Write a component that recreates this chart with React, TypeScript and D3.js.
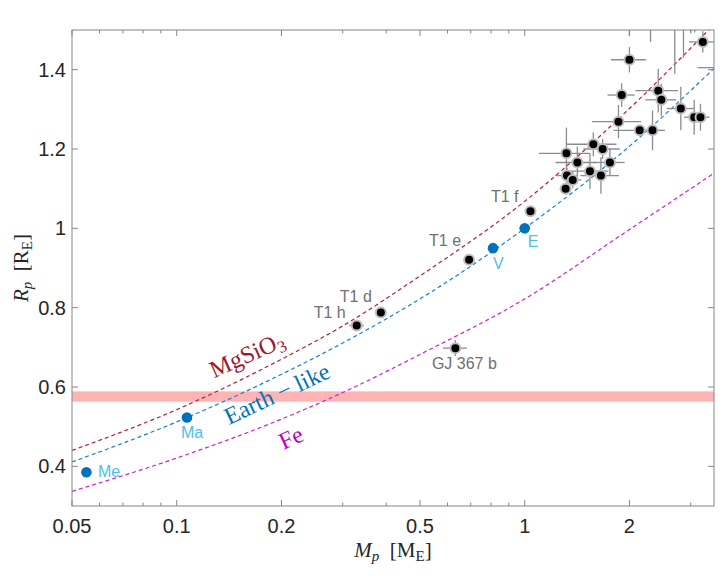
import React from 'react';
import * as d3 from 'd3';

// ---------- data ----------
const xDomain: [number, number] = [0.05, 3.5];
const yDomain: [number, number] = [0.3, 1.5];
const xTickValues = [0.05, 0.1, 0.2, 0.5, 1, 2];
const xTickLabels = ['0.05', '0.1', '0.2', '0.5', '1', '2'];
const xMinorTicks = [0.06, 0.07, 0.08, 0.09, 0.3, 0.4, 0.6, 0.7, 0.8, 0.9, 3];
const yTickValues = [0.4, 0.6, 0.8, 1.0, 1.2, 1.4];
const yTickLabels = ['0.4', '0.6', '0.8', '1', '1.2', '1.4'];

// mass-radius model curves
const curveMass = [0.05, 0.1, 0.2, 0.3, 0.5, 1, 2, 3.5];
const mgsio3Radius = [0.44, 0.543, 0.67, 0.754, 0.88, 1.068, 1.302, 1.514];
const earthRadius = [0.411, 0.512, 0.632, 0.711, 0.822, 1.0, 1.207, 1.403];
const ironRadius = [0.337, 0.421, 0.519, 0.586, 0.682, 0.822, 0.997, 1.139];

// horizontal band
const bandLow = 0.563;
const bandHigh = 0.589;

// solar-system planets
const solarNames = ['Me', 'Ma', 'V', 'E'];
const solarMass = [0.055, 0.107, 0.811, 1.0];
const solarRadius = [0.385, 0.523, 0.95, 1.0];

// labelled exoplanets
const namedPlanets = ['T1 h', 'T1 d', 'T1 e', 'T1 f', 'GJ 367 b'];
const namedMass = [0.329, 0.386, 0.692, 1.039, 0.632];
const namedRadius = [0.755, 0.788, 0.921, 1.043, 0.698];
const namedMassErr = [0.016, 0.006, 0.01, 0.012, 0.05];
const namedRadiusErr = [0.004, 0.004, 0.004, 0.004, 0.02];

// other exoplanets (some lie just outside the frame; only their bars show)
const otherMass = [3.25, 2.0, 2.42, 2.47, 1.9, 2.81, 3.07, 3.2, 1.86, 2.14, 2.33, 1.575, 1.675, 1.318, 1.417, 1.758, 1.54, 1.656, 1.323, 1.374, 1.311, 2.0, 2.3, 2.7, 2.86, 3.0, 3.08, 4.0];
const otherRadius = [1.47, 1.425, 1.347, 1.324, 1.336, 1.302, 1.28, 1.28, 1.269, 1.247, 1.247, 1.212, 1.2, 1.189, 1.166, 1.166, 1.144, 1.133, 1.133, 1.122, 1.1, 1.56, 1.55, 1.58, 1.6, 1.56, 1.56, 1.405];
const otherMassErr = [0.28, 0.23, 0.34, 0.25, 0.17, 0.25, 0.2, 0.2, 0.3, 0.34, 0.2, 0.26, 0.2, 0.22, 0.19, 0.18, 0.2, 0.21, 0.1, 0.08, 0.05, 0.1, 0.1, 0.1, 0.1, 0.1, 0.1, 0.86];
const otherRadiusErr = [0.027, 0.032, 0.055, 0.04, 0.03, 0.055, 0.044, 0.034, 0.042, 0.012, 0.05, 0.03, 0.025, 0.065, 0.04, 0.034, 0.045, 0.046, 0.02, 0.02, 0.015, 0.075, 0.08, 0.19, 0.17, 0.066, 0.066, 0.03];

// ---------- layout ----------
const W = 723;
const H = 581;
const P = { left: 72, right: 714, top: 30, bottom: 506 };
const solarLabelOffset: [number, number, string][] = [
  [11.5, 4.5, 'start'],
  [-6, 20, 'start'],
  [0, 21, 'start'],
  [3, 19, 'start'],
];
const namedLabelOffset: [number, number, string][] = [
  [-11, -7.5, 'end'],
  [-9, -10, 'end'],
  [-8, -13.5, 'end'],
  [-12, -9, 'end'],
  [9, 21, 'middle'],
];

const SANS = '"Liberation Sans", Arial, Helvetica, sans-serif';
const SERIF = '"Liberation Serif", "Times New Roman", serif';
const AXIS = '#868686';
const TXT = '#262626';

export default function App() {
  const x = d3.scaleLog().domain(xDomain).range([P.left, P.right]);
  const y = d3.scaleLinear().domain(yDomain).range([P.bottom, P.top]);
  const line = d3
    .line<number>()
    .x((_, i) => x(curveMass[i]))
    .y((d) => y(d))
    .curve(d3.curveMonotoneX);

  const curves = [
    { r: mgsio3Radius, color: '#B0203A' },
    { r: earthRadius, color: '#1E7FCB' },
    { r: ironRadius, color: '#CC22CC' },
  ];

  const others = otherMass.map((m, i) => ({ m, r: otherRadius[i], dm: otherMassErr[i], dr: otherRadiusErr[i] }));
  const named = namedMass.map((m, i) => ({ m, r: namedRadius[i], dm: namedMassErr[i], dr: namedRadiusErr[i], name: namedPlanets[i] }));
  const bars = [...others, ...named];

  const pw = P.right - P.left;
  const ph = P.bottom - P.top;

  return (
    <svg width={W} height={H} style={{ position: 'absolute', left: 0, top: 0, background: '#fff' }}>
      <defs>
        <clipPath id="plotclip">
          <rect x={P.left} y={P.top} width={pw} height={ph} />
        </clipPath>
      </defs>
      <rect x={0} y={0} width={W} height={H} fill="#fff" />
      <g clipPath="url(#plotclip)">
        <rect x={P.left} y={y(bandHigh)} width={pw} height={y(bandLow) - y(bandHigh)} fill="#FFB3B3" />
        {curves.map((c, i) => (
          <path key={i} d={line(c.r) || ''} fill="none" stroke={c.color} strokeWidth={1.2} strokeDasharray="4,3" />
        ))}
        {bars.map((b, i) => (
          <g key={i} stroke="#8c8c8c" strokeWidth={1.3}>
            <line x1={x(b.m - b.dm)} x2={x(b.m + b.dm)} y1={y(b.r)} y2={y(b.r)} />
            <line x1={x(b.m)} x2={x(b.m)} y1={y(b.r - b.dr)} y2={y(b.r + b.dr)} />
          </g>
        ))}
        {bars.map((b, i) => (
          <circle key={i} cx={x(b.m)} cy={y(b.r)} r={5} fill="#000" stroke="#bdbdbd" strokeWidth={2} />
        ))}
        {solarMass.map((m, i) => (
          <circle key={i} cx={x(m)} cy={y(solarRadius[i])} r={5.3} fill="#0072BD" />
        ))}
      </g>

      {solarNames.map((n, i) => (
        <text key={n} x={x(solarMass[i]) + solarLabelOffset[i][0]} y={y(solarRadius[i]) + solarLabelOffset[i][1]}
          textAnchor={solarLabelOffset[i][2] as any} fontFamily={SANS} fontSize={16} fill="#4DBEEE">{n}</text>
      ))}
      {named.map((p, i) => (
        <text key={p.name} x={x(p.m) + namedLabelOffset[i][0]} y={y(p.r) + namedLabelOffset[i][1]}
          textAnchor={namedLabelOffset[i][2] as any} fontFamily={SANS} fontSize={16} fill="#707070">{p.name}</text>
      ))}

      {/* curve labels */}
      <text transform="translate(248,357) rotate(-24)" textAnchor="middle" dominantBaseline="middle" fontFamily={SERIF} fontSize={24} fill="#A2142F">
        MgSiO<tspan fontSize={17} dy={6}>3</tspan>
      </text>
      <text transform="translate(278,396) rotate(-25)" textAnchor="middle" dominantBaseline="middle" fontFamily={SERIF} fontSize={24} fill="#0072BD">
        Earth − like
      </text>
      <text transform="translate(292,440) rotate(-25)" textAnchor="middle" dominantBaseline="middle" fontFamily={SERIF} fontSize={24} fill="#C000C0">
        Fe
      </text>

      {/* axes frame */}
      <rect x={P.left} y={P.top} width={pw} height={ph} fill="none" stroke={AXIS} strokeWidth={1} />
      {xTickValues.map((v) => (
        <g key={'xt' + v} stroke={AXIS}>
          <line x1={x(v)} x2={x(v)} y1={P.bottom} y2={P.bottom - 6} />
          <line x1={x(v)} x2={x(v)} y1={P.top} y2={P.top + 6} />
        </g>
      ))}
      {xMinorTicks.map((v) => (
        <g key={'xm' + v} stroke={AXIS}>
          <line x1={x(v)} x2={x(v)} y1={P.bottom} y2={P.bottom - 3.5} />
          <line x1={x(v)} x2={x(v)} y1={P.top} y2={P.top + 3.5} />
        </g>
      ))}
      {yTickValues.map((v) => (
        <g key={'yt' + v} stroke={AXIS}>
          <line x1={P.left} x2={P.left + 6} y1={y(v)} y2={y(v)} />
          <line x1={P.right} x2={P.right - 6} y1={y(v)} y2={y(v)} />
        </g>
      ))}
      {xTickValues.map((v, i) => (
        <text key={'xl' + v} x={x(v)} y={533} textAnchor="middle" fontFamily={SANS} fontSize={20} fill={TXT}>{xTickLabels[i]}</text>
      ))}
      {yTickValues.map((v, i) => (
        <text key={'yl' + v} x={66} y={y(v) + 7} textAnchor="end" fontFamily={SANS} fontSize={20} fill={TXT}>{yTickLabels[i]}</text>
      ))}

      {/* axis titles */}
      <text x={(P.left + P.right) / 2} y={557} textAnchor="middle" fontFamily={SERIF} fontSize={21} fill={TXT}>
        <tspan fontStyle="italic">M</tspan>
        <tspan fontStyle="italic" fontSize={15} dy={4}>p</tspan>
        <tspan dy={-4}>{'\u2002[M'}</tspan>
        <tspan fontSize={15} dy={4}>E</tspan>
        <tspan dy={-4}>]</tspan>
      </text>
      <text transform={`translate(28,${(P.top + P.bottom) / 2}) rotate(-90)`} textAnchor="middle" fontFamily={SERIF} fontSize={21} fill={TXT}>
        <tspan fontStyle="italic">R</tspan>
        <tspan fontStyle="italic" fontSize={15} dy={4}>p</tspan>
        <tspan dy={-4}>{'\u2002[R'}</tspan>
        <tspan fontSize={15} dy={4}>E</tspan>
        <tspan dy={-4}>]</tspan>
      </text>
    </svg>
  );
}
